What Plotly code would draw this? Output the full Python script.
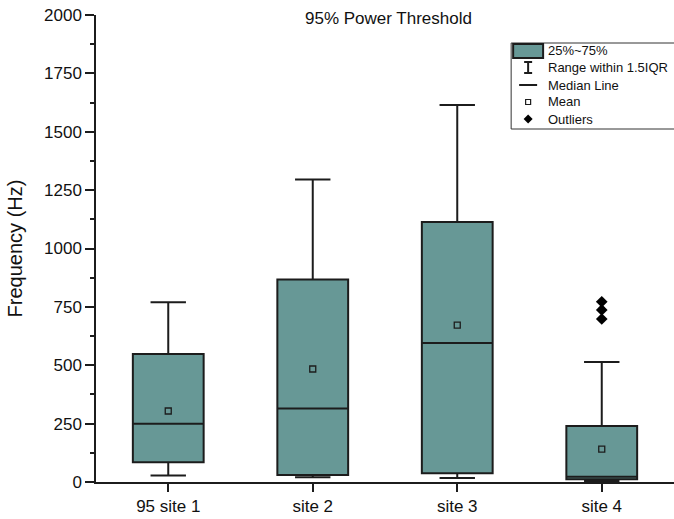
import plotly.graph_objects as go

categories = ["95 site 1", "site 2", "site 3", "site 4"]
q1 = [85, 30, 38, 12]
median = [250, 315, 595, 22]
q3 = [548, 867, 1113, 240]
lowerfence = [28, 20, 17, 3]
upperfence = [770, 1295, 1615, 514]
means = [304, 484, 672, 141]
outlier_cat = ["site 4", "site 4", "site 4"]
outlier_vals = [698, 737, 772]

W, H = 674, 519
ML, MR, MT, MB = 95.5, 0, 15, 37
PW = W - ML - MR
PH = H - MT - MB

FILL = "#679896"
LINE = "#1c1c1c"
FONT = "Arial, Liberation Sans, sans-serif"

fig = go.Figure()
fig.add_trace(go.Box(
    x=categories, q1=q1, median=median, q3=q3,
    lowerfence=lowerfence, upperfence=upperfence,
    fillcolor=FILL, line=dict(color=LINE, width=2),
    whiskerwidth=0.5, boxpoints=False, showlegend=False,
    hoverinfo="skip",
))
fig.add_trace(go.Scatter(
    x=categories, y=means, mode="markers", showlegend=False,
    marker=dict(symbol="square-open", size=6, color=LINE, line=dict(width=1.3)),
))
fig.add_trace(go.Scatter(
    x=outlier_cat, y=outlier_vals, mode="markers", showlegend=False,
    marker=dict(symbol="diamond", size=9, color="black"),
))


def px(xp):
    return (xp - ML) / PW


def py(yp):
    return (H - MB - yp) / PH


shapes = []
annotations = []
# legend box
shapes.append(dict(type="rect", xref="paper", yref="paper", x0=px(511), x1=px(690),
                   y0=py(129), y1=py(43), line=dict(color="#333", width=1), fillcolor="white"))
# swatch
shapes.append(dict(type="rect", xref="paper", yref="paper", x0=px(513), x1=px(543),
                   y0=py(58), y1=py(44), line=dict(color=LINE, width=2), fillcolor=FILL))
# range symbol
cx = 528
shapes.append(dict(type="line", xref="paper", yref="paper", x0=px(cx), x1=px(cx),
                   y0=py(73), y1=py(62), line=dict(color=LINE, width=2)))
shapes.append(dict(type="line", xref="paper", yref="paper", x0=px(cx - 4), x1=px(cx + 4),
                   y0=py(62), y1=py(62), line=dict(color=LINE, width=2)))
shapes.append(dict(type="line", xref="paper", yref="paper", x0=px(cx - 4), x1=px(cx + 4),
                   y0=py(73), y1=py(73), line=dict(color=LINE, width=2)))
# median line
shapes.append(dict(type="line", xref="paper", yref="paper", x0=px(519), x1=px(537),
                   y0=py(85), y1=py(85), line=dict(color=LINE, width=2)))
# mean square
shapes.append(dict(type="rect", xref="paper", yref="paper", x0=px(cx - 2.5), x1=px(cx + 2.5),
                   y0=py(104.5), y1=py(99.5), line=dict(color=LINE, width=1.2)))
# outlier diamond
d = 4.5
shapes.append(dict(type="path", xref="paper", yref="paper",
                   path=f"M {px(cx)} {py(119 - d)} L {px(cx + d)} {py(119)} L {px(cx)} {py(119 + d)} L {px(cx - d)} {py(119)} Z",
                   fillcolor="black", line=dict(color="black", width=0)))

labels = ["25%~75%", "Range within 1.5IQR", "Median Line", "Mean", "Outliers"]
ys = [50, 68, 85, 102, 119]
for t, yy in zip(labels, ys):
    annotations.append(dict(text=t, xref="paper", yref="paper", x=px(546), y=py(yy),
                            xanchor="left", yanchor="middle", showarrow=False,
                            font=dict(family=FONT, size=13, color="#111")))

annotations.append(dict(text="95% Power Threshold", xref="paper", yref="paper",
                        x=px(388), y=py(18), xanchor="center", yanchor="middle",
                        showarrow=False, font=dict(family=FONT, size=17, color="#111")))

fig.update_layout(
    width=W, height=H,
    margin=dict(l=ML, r=MR, t=MT, b=MB, pad=0),
    paper_bgcolor="white", plot_bgcolor="white",
    shapes=shapes, annotations=annotations,
    font=dict(family=FONT, color="#111"),
    xaxis=dict(range=[-0.5, 3.5], showline=True, linecolor=LINE, linewidth=1.5,
               ticks="outside", ticklen=8, tickwidth=1.5, tickcolor=LINE,
               showgrid=False, zeroline=False, tickfont=dict(size=17, family=FONT)),
    yaxis=dict(range=[0, 2000], showline=True, linecolor=LINE, linewidth=1.5,
               tickvals=[0, 250, 500, 750, 1000, 1250, 1500, 1750, 2000],
               ticks="outside", ticklen=9, tickwidth=1.5, tickcolor=LINE,
               minor=dict(dtick=125, ticks="outside", ticklen=4, tickwidth=1.5, tickcolor=LINE),
               showgrid=False, zeroline=False, tickfont=dict(size=17, family=FONT),
               title=dict(text="Frequency (Hz)", font=dict(size=20, family=FONT), standoff=16)),
)

fig.write_html("out.html")
